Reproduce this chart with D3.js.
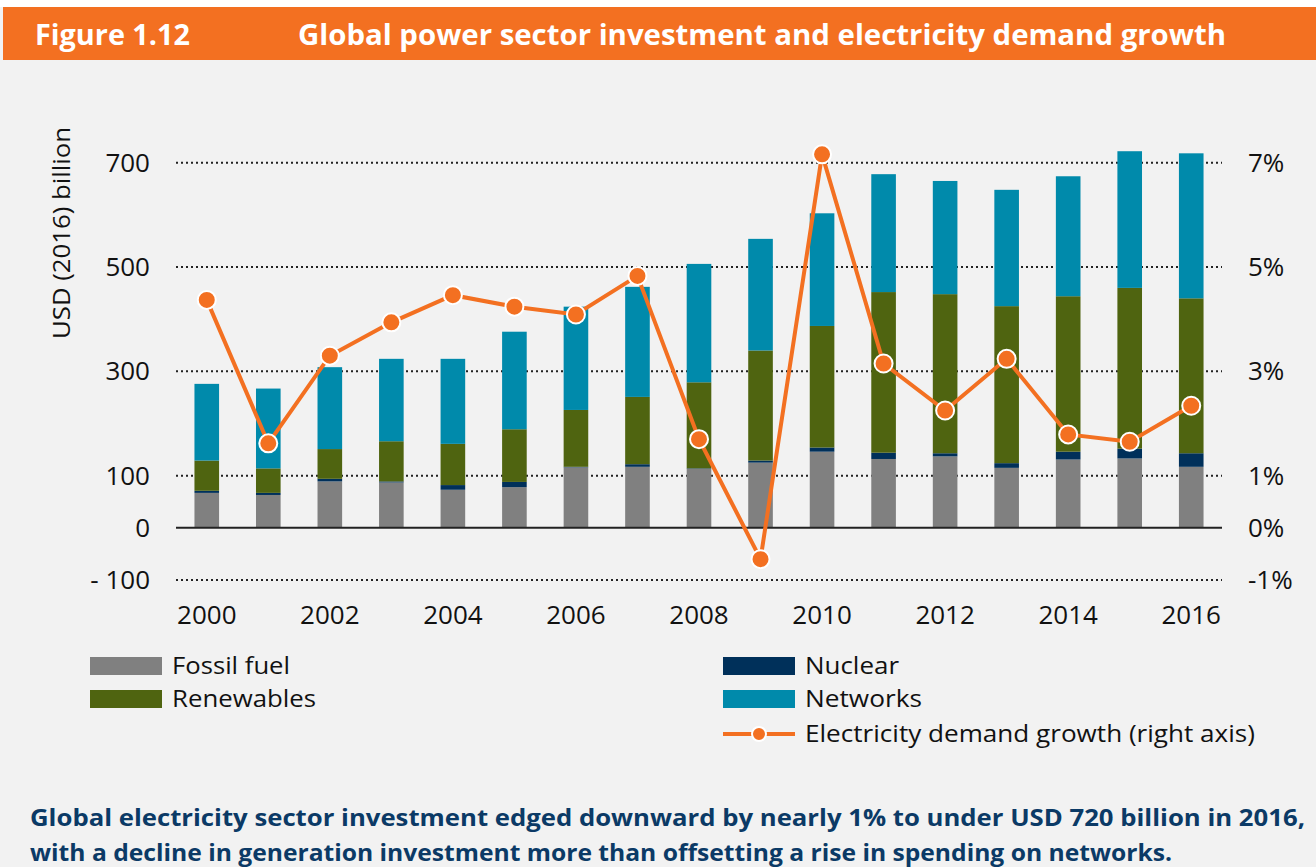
<!DOCTYPE html>
<html>
<head>
<meta charset="utf-8">
<script src="https://cdn.jsdelivr.net/npm/d3@7"></script>
<style>
  body { margin: 0; background: #fff; }
  svg { display: block; font-family: "Open Sans", sans-serif; }
</style>
</head>
<body>
<div id="chart"></div>
<script>
// values (USD 2016 billion, right axis in %)
const years = [2000, 2001, 2002, 2003, 2004, 2005, 2006, 2007, 2008, 2009, 2010, 2011, 2012, 2013, 2014, 2015, 2016];
const fossil = [67, 63, 89, 87, 73, 78, 116, 117, 113, 125, 146, 132, 137, 115, 131, 133, 117];
const nuclear = [4, 4, 5, 2, 9, 10, 1, 5, 1, 4, 8, 12, 6, 9, 15, 19, 26];
const renewables = [58, 47, 57, 77, 79, 101, 109, 129, 165, 211, 233, 308, 305, 301, 298, 308, 297];
const networks = [147, 153, 157, 158, 163, 187, 198, 211, 227, 214, 216, 226, 217, 223, 230, 262, 278];
const demandGrowth = [4.37, 1.62, 3.30, 3.94, 4.46, 4.24, 4.09, 4.83, 1.70, -0.60, 7.16, 3.15, 2.25, 3.24, 1.79, 1.65, 2.34];

const leftTicks = [-100, 0, 100, 300, 500, 700];
const rightTicks = [-1, 0, 1, 3, 5, 7];
const yearLabels = [2000, 2002, 2004, 2006, 2008, 2010, 2012, 2014, 2016];

const seriesKeys = ["fossil", "nuclear", "renewables", "networks"];
const colors = {fossil: "#808080", nuclear: "#00305a", renewables: "#4f6410", networks: "#008aab"};
const orange = "#f37021";

const W = 1316, H = 867;
const svg = d3.select("#chart").append("svg")
    .attr("width", W)
    .attr("height", H);

svg.append("rect").attr("width", W).attr("height", H).attr("fill", "#f2f2f2");
svg.append("rect").attr("width", W).attr("height", 7).attr("fill", "#fff");

// header
svg.append("rect")
    .attr("x", 3).attr("y", 7)
    .attr("width", W - 3).attr("height", 53)
    .attr("fill", orange);
svg.append("text")
    .attr("x", 35).attr("y", 45)
    .attr("fill", "#fff")
    .attr("font-weight", 700)
    .attr("font-size", 28)
    .attr("textLength", 155).attr("lengthAdjust", "spacingAndGlyphs")
    .text("Figure 1.12");
svg.append("text")
    .attr("x", 298).attr("y", 45)
    .attr("fill", "#fff")
    .attr("font-weight", 700)
    .attr("font-size", 28)
    .attr("textLength", 928).attr("lengthAdjust", "spacingAndGlyphs")
    .text("Global power sector investment and electricity demand growth");

// scales
const x = d3.scaleBand()
    .domain(years)
    .range([176, 1222])
    .paddingInner(0.6)
    .paddingOuter(0.3);

const y = d3.scaleLinear().domain([-100, 700]).range([580, 162.7]);
const y2 = d3.scaleLinear().domain([-1, 7]).range([580, 162.7]);

// gridlines (dotted), solid zero line
svg.append("g")
    .selectAll("line")
    .data(leftTicks.filter(d => d !== 0))
    .join("line")
    .attr("x1", 176).attr("x2", 1222)
    .attr("y1", d => y(d)).attr("y2", d => y(d))
    .attr("stroke", "#222")
    .attr("stroke-width", 2)
    .attr("stroke-dasharray", "2,3");

// bars
const table = years.map((yr, i) => ({
    year: yr,
    fossil: fossil[i],
    nuclear: nuclear[i],
    renewables: renewables[i],
    networks: networks[i]
}));
const stacked = d3.stack().keys(seriesKeys)(table);

svg.append("g")
    .selectAll("g")
    .data(stacked)
    .join("g")
    .attr("fill", d => colors[d.key])
    .selectAll("rect")
    .data(d => d)
    .join("rect")
    .attr("x", d => x(d.data.year))
    .attr("width", x.bandwidth())
    .attr("y", d => y(d[1]))
    .attr("height", d => y(d[0]) - y(d[1]));

svg.append("line")
    .attr("x1", 176).attr("x2", 1222)
    .attr("y1", y(0)).attr("y2", y(0))
    .attr("stroke", "#222")
    .attr("stroke-width", 2);

// left axis
const leftAxis = svg.append("g")
    .attr("transform", "translate(150,0)")
    .call(d3.axisLeft(y).tickValues(leftTicks).tickSize(0).tickPadding(0)
        .tickFormat(d => d < 0 ? "- " + Math.abs(d) : d));
leftAxis.select(".domain").remove();
leftAxis.selectAll("text")
    .attr("font-family", "Open Sans, sans-serif")
    .attr("font-size", 26)
    .attr("fill", "#111");

// right axis
const rightAxis = svg.append("g")
    .attr("transform", "translate(1248,0)")
    .call(d3.axisRight(y2).tickValues(rightTicks).tickSize(0).tickPadding(0)
        .tickFormat(d => d + "%"));
rightAxis.select(".domain").remove();
rightAxis.selectAll("text")
    .attr("font-family", "Open Sans, sans-serif")
    .attr("font-size", 26)
    .attr("fill", "#111");

// bottom axis
const bottomAxis = svg.append("g")
    .attr("transform", "translate(0,606)")
    .call(d3.axisBottom(x).tickValues(yearLabels).tickSize(0).tickPadding(0));
bottomAxis.select(".domain").remove();
bottomAxis.selectAll("text")
    .attr("font-family", "Open Sans, sans-serif")
    .attr("font-size", 26)
    .attr("fill", "#111");

// y axis title
svg.append("text")
    .attr("transform", "translate(70,233) rotate(-90)")
    .attr("text-anchor", "middle")
    .attr("font-size", 23)
    .attr("fill", "#111")
    .attr("textLength", 212).attr("lengthAdjust", "spacingAndGlyphs")
    .text("USD (2016) billion");

// demand growth line
const line = d3.line()
    .x((d, i) => x(years[i]) + x.bandwidth() / 2)
    .y(d => y2(d));

svg.append("path")
    .datum(demandGrowth)
    .attr("fill", "none")
    .attr("stroke", orange)
    .attr("stroke-width", 4)
    .attr("d", line);

svg.append("g")
    .selectAll("circle")
    .data(demandGrowth)
    .join("circle")
    .attr("cx", (d, i) => x(years[i]) + x.bandwidth() / 2)
    .attr("cy", d => y2(d))
    .attr("r", 9)
    .attr("fill", orange)
    .attr("stroke", "#fff")
    .attr("stroke-width", 2);

// legend
const legendItems = [
    {label: "Fossil fuel", key: "fossil", x: 90, y: 666, len: 118},
    {label: "Renewables", key: "renewables", x: 90, y: 699, len: 144},
    {label: "Nuclear", key: "nuclear", x: 723, y: 666, len: 94},
    {label: "Networks", key: "networks", x: 723, y: 699, len: 117}
];

const legend = svg.append("g");
legendItems.forEach(d => {
    legend.append("rect")
        .attr("x", d.x).attr("y", d.y - 9)
        .attr("width", 72).attr("height", 18)
        .attr("fill", colors[d.key]);
    legend.append("text")
        .attr("x", d.x + 82).attr("y", d.y)
        .attr("dy", "0.35em")
        .attr("font-size", 23)
        .attr("fill", "#111")
        .attr("textLength", d.len).attr("lengthAdjust", "spacingAndGlyphs")
        .text(d.label);
});
legend.append("line")
    .attr("x1", 723).attr("x2", 795)
    .attr("y1", 734).attr("y2", 734)
    .attr("stroke", orange).attr("stroke-width", 4);
legend.append("circle")
    .attr("cx", 759).attr("cy", 734).attr("r", 7)
    .attr("fill", orange).attr("stroke", "#fff").attr("stroke-width", 2);
legend.append("text")
    .attr("x", 805).attr("y", 734)
    .attr("dy", "0.35em")
    .attr("font-size", 23)
    .attr("fill", "#111")
    .attr("textLength", 450).attr("lengthAdjust", "spacingAndGlyphs")
    .text("Electricity demand growth (right axis)");

// caption
const caption = [
    {text: "Global electricity sector investment edged downward by nearly 1% to under USD 720 billion in 2016,", y: 826, len: 1275},
    {text: "with a decline in generation investment more than offsetting a rise in spending on networks.", y: 861, len: 1142}
];
svg.append("g")
    .selectAll("text")
    .data(caption)
    .join("text")
    .attr("x", 30)
    .attr("y", d => d.y)
    .attr("font-size", 24)
    .attr("font-weight", 700)
    .attr("fill", "#0b3a66")
    .attr("textLength", d => d.len).attr("lengthAdjust", "spacingAndGlyphs")
    .text(d => d.text);
</script>
</body>
</html>
